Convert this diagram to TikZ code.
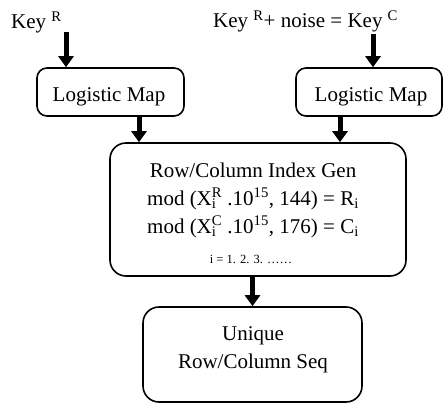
\documentclass[tikz,border=0pt]{standalone}
\usepackage{fontspec}
\setmainfont{Liberation Serif}
\usetikzlibrary{arrows.meta}

\tikzset{
  stage/.style={draw, line width=1.6pt, inner sep=0pt},
  mapbox/.style={stage, rounded corners=10pt, minimum width=147pt, minimum height=48pt},
  bigbox/.style={stage, rounded corners=16pt},
  txt/.style={inner sep=0pt, font=\fontsize{21}{24}\selectfont},
  small/.style={inner sep=0pt, font=\fontsize{12.5}{14}\selectfont},
  flow/.style={line width=5pt, -{Triangle[width=15pt,length=11pt]}}
}

\begin{document}
\begin{tikzpicture}[x=1pt, y=-1pt]
  \useasboundingbox (0,0) rectangle (443,403);

  % key inputs
  \node[txt, anchor=base west] (keyr) at (11,29) {Key \textsuperscript{R}};
  \node[txt, anchor=base west] (keyc) at (213,28) {Key \textsuperscript{R}+ noise = Key \textsuperscript{C}};

  % logistic maps
  \node[mapbox] (lmL) at (110.5,92) {};
  \node[mapbox, minimum width=146pt] (lmR) at (369,92) {};
  \node[txt, anchor=base] (lmLt) at (109,102) {Logistic Map};
  \node[txt, anchor=base] (lmRt) at (371,102) {Logistic Map};

  % index generator
  \node[bigbox, minimum width=296pt, minimum height=133pt] (gen) at (258,209.5) {};
  \node[txt, anchor=base] (gen1) at (253,177) {Row/Column Index Gen};
  \node[txt, anchor=base] (gen2) at (253,205)
    {mod (X\makebox[0pt][l]{\textsubscript{i}}\textsuperscript{R} .10\textsuperscript{15}, 144) = R\textsubscript{i}};
  \node[txt, anchor=base] (gen3) at (253,233)
    {mod (X\makebox[0pt][l]{\textsubscript{i}}\textsuperscript{C} .10\textsuperscript{15}, 176) = C\textsubscript{i}};
  \node[small, anchor=base] (gen4) at (251,263) {i = 1. 2. 3. ……};

  % output sequence
  \node[bigbox, minimum width=219pt, minimum height=95pt] (seq) at (252.5,354.5) {};
  \node[txt, anchor=base] (seq1) at (253,340) {Unique};
  \node[txt, anchor=base] (seq2) at (253,368) {Row/Column Seq};

  % connectors
  \coordinate (inL) at (66,32);
  \coordinate (inR) at (373,34);
  \coordinate (outL) at (139,0);
  \coordinate (outR) at (340,0);
  \draw[flow] (inL) -- (inL |- lmL.north);
  \draw[flow] (inR) -- (inR |- lmR.north);
  \draw[flow] (outL |- lmL.south) -- (outL |- gen.north);
  \draw[flow] (outR |- lmR.south) -- (outR |- gen.north);
  \draw[flow] (seq.north |- gen.south) -- (seq.north);
\end{tikzpicture}
\end{document}
